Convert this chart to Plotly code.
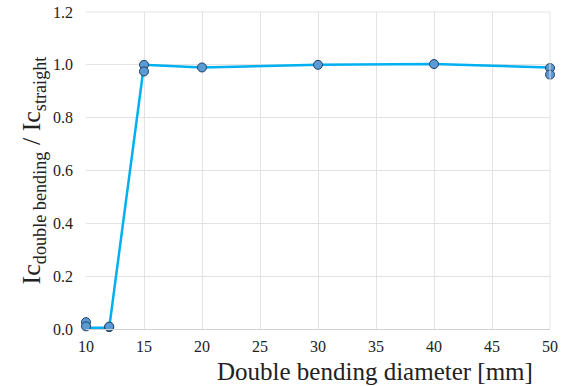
import plotly.graph_objects as go

# data
diam_line = [10, 12, 15, 20, 30, 40, 50]
ratio_line = [0.005, 0.005, 1.0, 0.99, 1.0, 1.003, 0.99]
diam_pts = [10, 10, 12, 12, 15, 15, 20, 30, 40, 50, 50]
ratio_pts = [0.026, 0.01, 0.007, 0.009, 1.0, 0.975, 0.99, 1.0, 1.003, 0.988, 0.963]
x_ticks = [10, 15, 20, 25, 30, 35, 40, 45, 50]
y_ticks = [0.0, 0.2, 0.4, 0.6, 0.8, 1.0, 1.2]

fig = go.Figure()
fig.add_trace(go.Scatter(x=diam_line, y=ratio_line, mode="lines",
                         line=dict(color="#00b0f0", width=2.5), showlegend=False,
                         cliponaxis=False))
fig.add_trace(go.Scatter(x=diam_pts, y=ratio_pts, mode="markers",
                         marker=dict(color="#5b9bd5", size=9, line=dict(color="#1f3f66", width=1)),
                         showlegend=False, cliponaxis=False))

font = "Liberation Serif, serif"
fig.update_layout(
    width=574, height=386,
    margin=dict(l=86, r=24, t=12, b=57, autoexpand=False),
    paper_bgcolor="white", plot_bgcolor="white",
    font=dict(family=font, color="#222222"),
    xaxis=dict(range=[10, 50], tickvals=x_ticks, showgrid=True, gridcolor="#e3e3e3", gridwidth=1,
               zeroline=False, showline=True, linecolor="#d0d0d0", linewidth=1, mirror=False,
               tickfont=dict(size=16, family=font), ticks="", ticklabelstandoff=3,
               automargin=False),
    yaxis=dict(range=[0, 1.2], tickvals=y_ticks, tickformat=".1f", showgrid=True, gridcolor="#e3e3e3",
               zeroline=False, showline=False, tickfont=dict(size=16, family=font), ticks="",
               ticklabelstandoff=12, automargin=False,
               title=dict(text="Ic<sub>double bending</sub> / Ic<sub>straight</sub>",
                          font=dict(size=26, family=font), standoff=4)),
    annotations=[dict(text="Double bending diameter [mm]", xref="paper", yref="paper",
                      x=0.623, y=-0.135, xanchor="center", yanchor="middle", showarrow=False,
                      font=dict(size=25, family=font, color="#222222"))],
)
fig.add_shape(type="line", xref="paper", yref="paper", x0=0, x1=1, y0=1, y1=1,
              line=dict(color="#e3e3e3", width=1))
fig.add_shape(type="line", xref="paper", yref="paper", x0=1, x1=1, y0=0, y1=1,
              line=dict(color="#e3e3e3", width=1))
fig.write_html("out.html")
